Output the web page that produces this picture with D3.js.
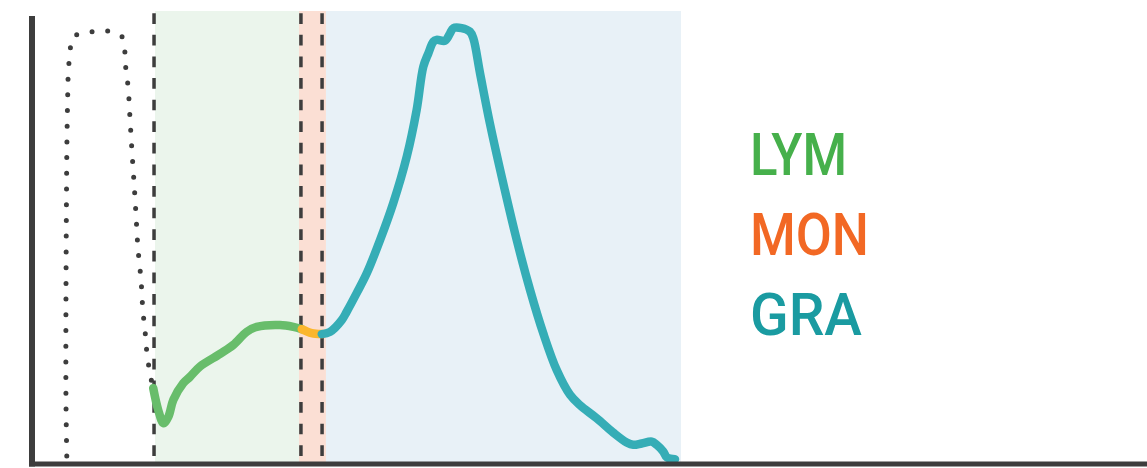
<!DOCTYPE html>
<html>
<head>
<meta charset="utf-8">
<script src="https://cdn.jsdelivr.net/npm/d3@7"></script>
<style>
  html, body { margin: 0; padding: 0; background: #fff; }
  svg { display: block; }
</style>
</head>
<body>
<svg id="chart" width="1147" height="468"></svg>
<script>
// WBC volume histogram: size (fL) on x, relative count on y

// Gate boundaries (fL) for the shaded populations
const gateNames = ["LYM", "MON", "GRA"];
const gateEdges = [75.7, 164.3, 180.9, 399.4];
// Discriminator positions drawn as dashed lines
const discriminators = [75.1, 165.5, 178.5];

// Debris / platelet trace (dotted), listed along the curve
const debrisX = [21.4, 20.9, 20.9, 21.2, 21.5, 22.0, 22.2, 22.8, 23.8, 25.0, 29.5, 35.1, 40.6, 46.2, 51.7, 56.0, 57.2, 57.8, 59.1, 60.3, 61.5, 62.8, 64.0, 65.2, 67.1, 68.3, 69.5, 70.2, 71.4, 73.0, 74.6];
const debrisY = [1.1, 13.6, 35.8, 58.0, 71.3, 81.8, 85.1, 88.7, 92.2, 94.1, 95.0, 95.3, 95.6, 95.6, 95.1, 94.0, 90.7, 86.9, 83.3, 76.2, 68.9, 61.8, 54.7, 47.3, 40.2, 33.1, 29.3, 25.8, 22.2, 18.7, 16.2];

// Lymphocyte segment
const lymX = [74.6, 77.7, 80.9, 83.9, 87.0, 93.1, 97.2, 103.4, 115.7, 123.9, 132.1, 138.3, 152.6, 160.8, 166.0];
const lymY = [16.2, 11.3, 8.4, 9.8, 13.6, 17.3, 18.7, 21.0, 23.8, 25.8, 28.7, 29.8, 30.2, 29.8, 29.3];

// Monocyte segment
const monX = [166.0, 172.1, 178.3];
const monY = [29.3, 28.4, 28.2];

// Granulocyte segment
const graX = [178.3, 183.4, 190.6, 193.7, 199.8, 206.0, 214.2, 222.3, 230.6, 236.7, 240.8, 243.9, 247.0, 249.0, 254.2, 257.2, 259.3, 264.4, 269.5, 271.6, 275.7, 281.8, 290.0, 298.3, 306.5, 314.6, 322.9, 331.1, 337.2, 347.5, 357.7, 366.0, 370.0, 375.2, 381.4, 384.4, 388.5, 390.7, 395.7];
const graY = [28.2, 28.7, 31.3, 33.2, 37.3, 41.7, 49.1, 57.3, 67.6, 78.0, 87.6, 90.6, 93.2, 93.6, 93.4, 95.0, 96.2, 96.2, 95.4, 93.9, 86.2, 75.0, 61.7, 49.1, 38.0, 28.4, 20.2, 14.7, 12.4, 9.5, 6.3, 4.1, 3.6, 3.9, 4.3, 3.6, 2.1, 0.8, 0.4];

const gateFill = ["#ebf5ec", "#fbdfd4", "#e8f1f7"];
const lineColor = ["#68bd6b", "#fbb62c", "#35adb6"];
const labelColor = ["#46b04b", "#f26824", "#1a9ba1"];

const svg = d3.select("#chart");
const W = 1147, H = 468;

const x = d3.scaleLinear().domain([0, 400]).range([32, 682]);
const y = d3.scaleLinear().domain([0, 100]).range([461, 11]);

const ink = "#3d3d3d";

// Shaded gates
svg.append("g").selectAll("rect")
  .data(gateFill)
  .join("rect")
  .attr("x", (d, i) => x(gateEdges[i]))
  .attr("width", (d, i) => x(gateEdges[i + 1]) - x(gateEdges[i]))
  .attr("y", y(100))
  .attr("height", y(0) - y(100) + 2)
  .attr("fill", d => d);

// Dashed discriminators
svg.append("g").selectAll("line")
  .data(discriminators)
  .join("line")
  .attr("x1", d => x(d)).attr("x2", d => x(d))
  .attr("y1", y(99.5)).attr("y2", y(1.1))
  .attr("stroke", ink)
  .attr("stroke-width", 3.5)
  .attr("stroke-dasharray", "10.7 10.9");

const toPts = (xs, ys) => xs.map((v, i) => [v, ys[i]]);

// Dotted debris trace
const debrisLine = d3.line()
  .x(d => x(d[0])).y(d => y(d[1]))
  .curve(d3.curveCatmullRom.alpha(0.5));
svg.append("path")
  .datum(toPts(debrisX, debrisY))
  .attr("d", debrisLine)
  .attr("fill", "none")
  .attr("stroke", ink)
  .attr("stroke-width", 5)
  .attr("stroke-linecap", "round")
  .attr("stroke-dasharray", "0 15.7");

// Population curves
const curve = d3.line()
  .x(d => x(d[0])).y(d => y(d[1]))
  .curve(d3.curveCatmullRom.alpha(0.5));
const segs = [toPts(lymX, lymY), toPts(monX, monY), toPts(graX, graY)];
svg.append("g").selectAll("path")
  .data(segs)
  .join("path")
  .attr("d", curve)
  .attr("fill", "none")
  .attr("stroke", (d, i) => lineColor[i])
  .attr("stroke-width", 8.5)
  .attr("stroke-linecap", "round")
  .attr("stroke-linejoin", "round");

// Axes (no ticks)
svg.append("line")
  .attr("x1", 32).attr("x2", 32)
  .attr("y1", 16).attr("y2", 466.5)
  .attr("stroke", ink).attr("stroke-width", 6);
svg.append("line")
  .attr("x1", 29).attr("x2", W)
  .attr("y1", 464).attr("y2", 464)
  .attr("stroke", ink).attr("stroke-width", 5);

// Legend
const legendWidths = [97, 119, 112];
svg.append("g").selectAll("text")
  .data(gateNames)
  .join("text")
  .attr("x", 750)
  .attr("y", (d, i) => 175 + i * 80)
  .attr("fill", (d, i) => labelColor[i])
  .attr("font-family", "Roboto, 'Open Sans', sans-serif")
  .attr("font-weight", 500)
  .attr("font-size", 59)
  .attr("textLength", (d, i) => legendWidths[i])
  .attr("lengthAdjust", "spacingAndGlyphs")
  .text(d => d);
</script>
</body>
</html>
